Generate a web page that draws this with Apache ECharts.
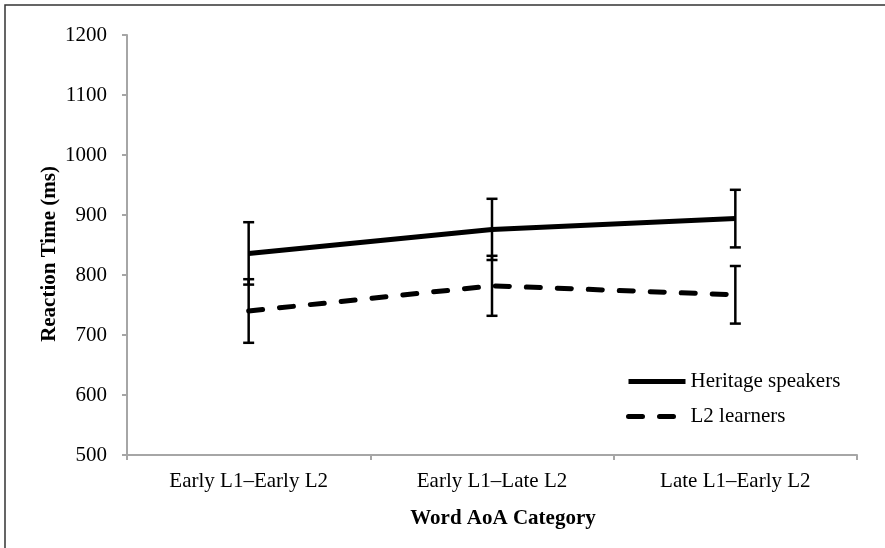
<!DOCTYPE html>
<html>
<head>
<meta charset="utf-8">
<script src="https://cdn.jsdelivr.net/npm/echarts@6/dist/echarts.min.js"></script>
<style>
html,body{margin:0;padding:0;background:#fff;}
#chart{width:885px;height:548px;}
</style>
</head>
<body>
<div id="chart"></div>
<script>
var categories = ['Early L1\u2013Early L2', 'Early L1\u2013Late L2', 'Late L1\u2013Early L2'];
var heritageMeans = [836, 876, 894];
var heritageErrors = [52, 51, 48];
var l2Means = [740, 782, 767];
var l2Errors = [53, 50, 48];
var yTicks = [500, 600, 700, 800, 900, 1000, 1100, 1200];

var FONT = '"Liberation Serif", "Times New Roman", serif';

function errData(means, errs) {
  return means.map(function (m, i) { return [i, m - errs[i], m + errs[i]]; });
}

function errRender(params, api) {
  var x = api.value(0);
  var lo = api.coord([x, api.value(1)]);
  var hi = api.coord([x, api.value(2)]);
  var hw = 5.5;
  var st = { stroke: '#000', lineWidth: 2.5 };
  return {
    type: 'group',
    children: [
      { type: 'line', shape: { x1: lo[0], y1: lo[1], x2: hi[0], y2: hi[1] }, style: st },
      { type: 'line', shape: { x1: hi[0] - hw, y1: hi[1], x2: hi[0] + hw, y2: hi[1] }, style: st },
      { type: 'line', shape: { x1: lo[0] - hw, y1: lo[1], x2: lo[0] + hw, y2: lo[1] }, style: st }
    ]
  };
}

var chart = echarts.init(document.getElementById('chart'), null, { renderer: 'canvas' });
chart.setOption({
  backgroundColor: '#fff',
  animation: false,
  grid: { left: 127, right: 28, top: 35, bottom: 93, containLabel: false },
  legend: {
    orient: 'vertical',
    left: 621,
    top: 366,
    itemWidth: 57,
    itemHeight: 20,
    itemGap: 14,
    itemStyle: { opacity: 0 },
    textStyle: { fontFamily: FONT, fontSize: 21, color: '#000' },
    data: [
      { name: 'Heritage speakers', lineStyle: { width: 5 } },
      { name: 'L2 learners', lineStyle: { width: 5 } }
    ]
  },
  xAxis: {
    type: 'category',
    data: categories,
    boundaryGap: true,
    axisLine: { lineStyle: { color: '#a6a6a6', width: 2 } },
    axisTick: { show: true, length: 5, lineStyle: { color: '#a6a6a6', width: 2 } },
    axisLabel: { fontFamily: FONT, fontSize: 21, color: '#000', margin: 16 },
    splitLine: { show: false }
  },
  yAxis: {
    type: 'value',
    min: yTicks[0],
    max: yTicks[yTicks.length - 1],
    interval: 100,
    axisLine: { show: true, lineStyle: { color: '#a6a6a6', width: 2 } },
    axisTick: { show: true, length: 5, lineStyle: { color: '#a6a6a6', width: 2 } },
    axisLabel: { fontFamily: FONT, fontSize: 21, color: '#000', margin: 20, formatter: function (v) { return String(v); } },
    splitLine: { show: false }
  },
  graphic: [
    { type: 'rect', shape: { x: 5, y: 5, width: 900, height: 600 }, style: { fill: 'none', stroke: '#333', lineWidth: 1.5 }, silent: true, z: -1 },
    { type: 'text', x: 50, y: 254, rotation: Math.PI / 2, style: { text: 'Reaction Time (ms)', fontFamily: FONT, fontSize: 21, fontWeight: 'bold', fill: '#000', textAlign: 'center', textVerticalAlign: 'middle' } },
    { type: 'text', x: 503, y: 519, style: { text: 'Word AoA Category', fontFamily: FONT, fontSize: 21, fontWeight: 'bold', fill: '#000', textAlign: 'center', textVerticalAlign: 'middle' } }
  ],
  series: [
    {
      name: 'Heritage speakers',
      type: 'line',
      data: heritageMeans,
      symbol: 'none',
      lineStyle: { color: '#000', width: 5, type: 'solid' },
      itemStyle: { color: '#000' },
      z: 3
    },
    {
      name: 'L2 learners',
      type: 'line',
      data: l2Means,
      symbol: 'none',
      lineStyle: { color: '#000', width: 5, type: [14, 17], cap: 'round' },
      itemStyle: { color: '#000' },
      z: 3
    },
    {
      type: 'custom',
      renderItem: errRender,
      data: errData(heritageMeans, heritageErrors),
      encode: { x: 0, y: [1, 2] },
      z: 4
    },
    {
      type: 'custom',
      renderItem: errRender,
      data: errData(l2Means, l2Errors),
      encode: { x: 0, y: [1, 2] },
      z: 4
    }
  ]
});
</script>
</body>
</html>
